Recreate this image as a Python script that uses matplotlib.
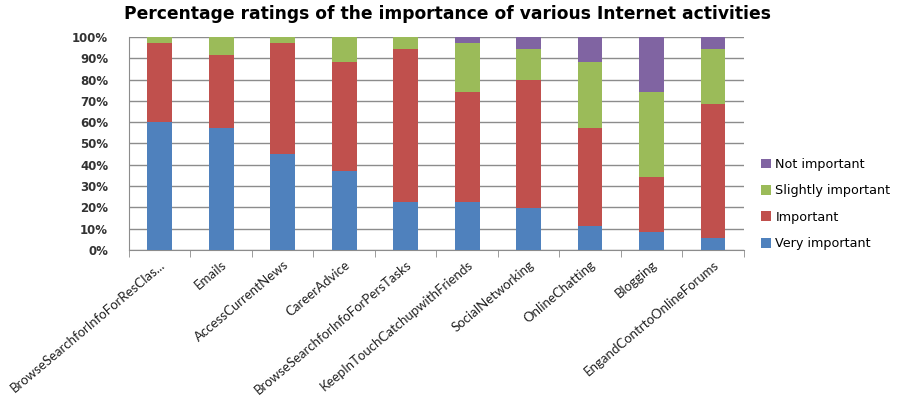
import numpy as np
import matplotlib.pyplot as plt
from matplotlib.ticker import PercentFormatter

categories = [
    "BrowseSearchforInfoForResClas...", "Emails", "AccessCurrentNews",
    "CareerAdvice", "BrowseSearchforInfoForPersTasks",
    "KeepInTouchCatchupwithFriends", "SocialNetworking", "OnlineChatting",
    "Blogging", "EngandContrtoOnlineForums",
]
very_important = [60.0, 57.4, 45.3, 37.1, 22.6, 22.7, 19.9, 11.4, 8.6, 5.6]
important = [37.0, 34.0, 51.9, 51.3, 71.6, 51.4, 60.0, 46.0, 25.6, 63.1]
slightly_important = [3.0, 8.6, 2.8, 11.6, 5.8, 23.1, 14.3, 30.8, 39.9, 25.5]
not_important = [0.0, 0.0, 0.0, 0.0, 0.0, 2.8, 5.8, 11.8, 25.9, 5.8]

series = [
    ("Very important", very_important, "#4F81BD"),
    ("Important", important, "#C0504D"),
    ("Slightly important", slightly_important, "#9BBB59"),
    ("Not important", not_important, "#8064A2"),
]

fig = plt.figure(figsize=(8.99, 4.08), dpi=100)
ax = fig.add_axes([0.1435, 0.3873, 0.684, 0.522])

x = np.arange(len(categories))
bottom = np.zeros(len(categories))
handles = []
for name, vals, color in series:
    vals = np.array(vals)
    b = ax.bar(x, vals, width=0.4, bottom=bottom, color=color, label=name,
               zorder=3)
    handles.append(b)
    bottom += vals

ax.set_xlim(-0.5, len(categories) - 0.5)
ax.set_ylim(0, 100)
ax.set_yticks(np.arange(0, 101, 10))
ax.yaxis.set_major_formatter(PercentFormatter(decimals=0))
ax.grid(axis="y", color="#8c8c8c", linewidth=1, zorder=0)
ax.spines[["top", "right"]].set_visible(False)
ax.spines["left"].set_color("#8c8c8c")
ax.spines["bottom"].set_color("#8c8c8c")
ax.tick_params(axis="y", length=0, pad=15, labelsize=8.5, labelcolor="#333333")
for lab in ax.get_yticklabels():
    lab.set_fontweight("bold")

ax.set_xticks(x)
ax.set_xticklabels(categories, rotation=40, ha="right",
                   rotation_mode="anchor", fontsize=9.5, color="#222222",
                   family="Lato")
ax.set_xticks(np.arange(-0.5, len(categories), 1), minor=True)
ax.tick_params(axis="x", which="major", length=0, pad=6)
ax.tick_params(axis="x", which="minor", length=5, color="#8c8c8c",
               direction="out")

fig.text(0.498, 0.965, "Percentage ratings of the importance of various Internet activities",
         ha="center", va="center", fontsize=12.3, fontweight="bold")

fig.legend(handles[::-1], [s[0] for s in series][::-1],
           loc="center left", bbox_to_anchor=(0.834, 0.50), frameon=False,
           fontsize=9.2, handlelength=0.8, handleheight=0.8,
           labelspacing=1.05, handletextpad=0.3)

fig.savefig("out.png", dpi=100)
